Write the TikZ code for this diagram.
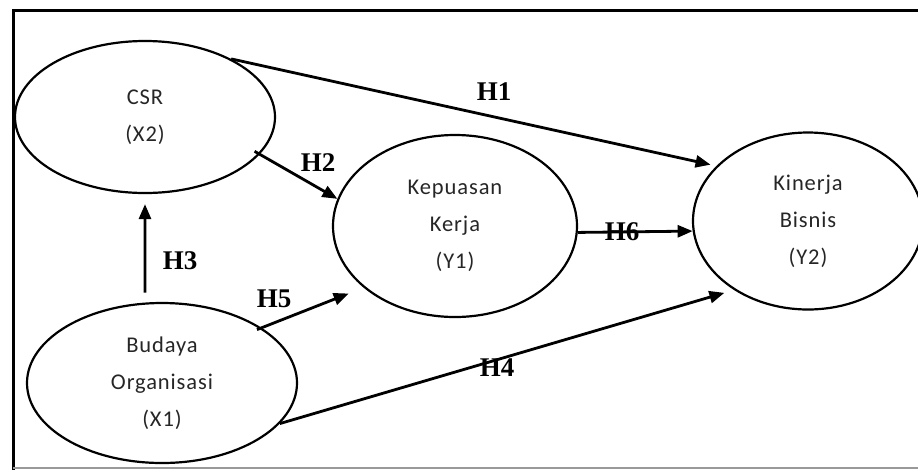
\documentclass[tikz,border=0pt]{standalone}
\usepackage{fontspec}
\setmainfont{Liberation Serif}
\newfontfamily\nodefont[LetterSpace=4]{Carlito}
\usetikzlibrary{shapes.geometric,arrows.meta}
\begin{document}
\begin{tikzpicture}[x=1pt,y=-1pt,
  var/.style={draw, ellipse, line width=2.2pt, inner sep=0pt, align=center,
    font=\nodefont\fontsize{22.5}{37}\selectfont, text=black!85},
  arr/.style={line width=2.8pt, -{Triangle[length=15pt,width=12pt]}},
  hyp/.style={font=\bfseries\fontsize{27}{30}\selectfont, inner sep=0pt}]
\useasboundingbox (0,0) rectangle (918,472);
\draw[line width=3pt] (921,10) -- (13,10) -- (13,470);
\draw[line width=1.5pt, black!40] (13,468) -- (921,468);
\node[var, minimum width=260pt, minimum height=152pt] (csr) at (145,117) {CSR\\(X2)};
\node[var, minimum width=270pt, minimum height=160pt] (bud) at (162,383) {Budaya\\Organisasi\\(X1)};
\node[var, minimum width=244pt, minimum height=182pt] (kep) at (455,226) {Kepuasan\\Kerja\\(Y1)};
\node[var, minimum width=230pt, minimum height=177pt] (kin) at (808,221) {Kinerja\\Bisnis\\(Y2)};
\draw[arr, shorten >=6pt] (csr.34) -- (kin.149);
\draw[arr, shorten <=-6pt] (csr.-18) -- (kep.167);
\draw[arr, shorten <=10pt, shorten >=10pt] (bud.102) -- (csr.270);
\draw[arr, shorten <=-5pt, shorten >=16pt] (bud.29) -- (kep.214.6);
\draw[arr] (kep.-3) -- (kin.185);
\draw[arr, shorten >=10pt] (bud.-19.3) -- (kin.223.5);
\node[hyp] (h1) at (494,92) {H1};
\node[hyp] (h2) at (318,163) {H2};
\node[hyp] (h3) at (180,261) {H3};
\node[hyp] (h5) at (274,299) {H5};
\node[hyp] (h6) at (622,232) {H6};
\node[hyp] (h4) at (497,368) {H4};
\end{tikzpicture}
\end{document}
